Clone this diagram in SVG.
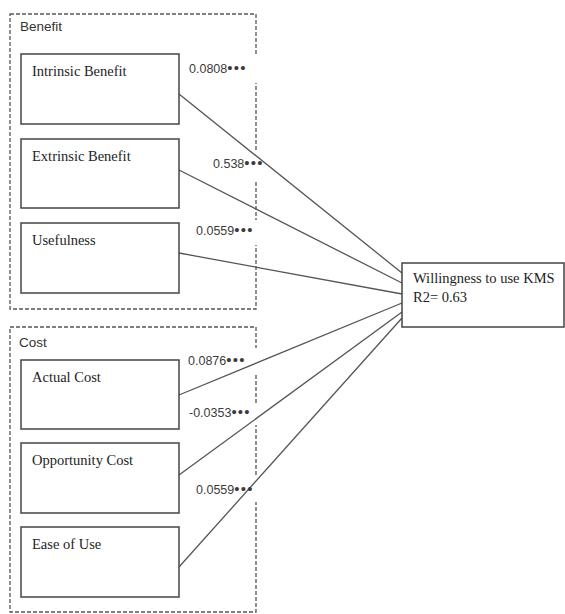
<svg xmlns="http://www.w3.org/2000/svg" width="565" height="614" viewBox="0 0 565 614">
<style>
.grp{fill:none;stroke:#555;stroke-width:1.3;stroke-dasharray:4 2}
.box{fill:#fff;stroke:#444;stroke-width:1.5}
.nt{font-family:"Liberation Serif","Times New Roman",serif;font-size:14.5px;fill:#1e1e1e}
.gl{font-family:"Liberation Sans",Arial,sans-serif;font-size:13.5px;fill:#333}
.lb{font-family:"Liberation Sans",Arial,sans-serif;font-size:12.5px;fill:#3c3c3c}
.st{font-size:15px;letter-spacing:1.2px}
.bg{fill:#fff;stroke:none}
.cn{stroke:#555;stroke-width:1.3;fill:none}
</style>
<rect width="565" height="614" fill="#fff"/>
<g id="group-benefit">
<rect class="grp" x="10" y="14" width="246" height="295"/>
<text class="gl" x="20" y="31">Benefit</text>
</g>
<g id="group-cost">
<rect class="grp" x="10" y="327" width="246" height="285"/>
<text class="gl" x="19" y="347">Cost</text>
</g>
<g id="label-backgrounds">
<rect class="bg" x="186" y="55" width="74" height="28"/>
<rect class="bg" x="210" y="150" width="50" height="30"/>
<rect class="bg" x="193" y="220" width="67" height="25"/>
<rect class="bg" x="186" y="348" width="74" height="25"/>
<rect class="bg" x="186" y="403" width="74" height="22"/>
<rect class="bg" x="193" y="476" width="67" height="26"/>
</g>
<g id="connectors">
<line class="cn" x1="179" y1="94" x2="402" y2="273"/>
<line class="cn" x1="179" y1="170" x2="402" y2="283"/>
<line class="cn" x1="179" y1="253" x2="402" y2="294"/>
<line class="cn" x1="179" y1="395" x2="402" y2="303"/>
<line class="cn" x1="179" y1="475" x2="402" y2="312"/>
<line class="cn" x1="179" y1="567" x2="402" y2="318"/>
</g>
<g id="node-intrinsic">
<rect class="box" x="21" y="54" width="158" height="70"/>
<text class="nt" x="32" y="76">Intrinsic Benefit</text>
</g>
<g id="node-extrinsic">
<rect class="box" x="21" y="139" width="158" height="69"/>
<text class="nt" x="32" y="161">Extrinsic Benefit</text>
</g>
<g id="node-usefulness">
<rect class="box" x="21" y="223" width="158" height="70"/>
<text class="nt" x="32" y="245">Usefulness</text>
</g>
<g id="node-actual-cost">
<rect class="box" x="21" y="360" width="158" height="69"/>
<text class="nt" x="32" y="382">Actual Cost</text>
</g>
<g id="node-opportunity-cost">
<rect class="box" x="21" y="443" width="158" height="70"/>
<text class="nt" x="32" y="465">Opportunity Cost</text>
</g>
<g id="node-ease-of-use">
<rect class="box" x="21" y="527" width="158" height="70"/>
<text class="nt" x="32" y="549">Ease of Use</text>
</g>
<g id="node-willingness">
<rect class="box" x="402" y="263" width="162" height="64"/>
<text class="nt" x="413" y="283">Willingness to use KMS</text>
<text class="nt" x="413" y="302">R2= 0.63</text>
</g>
<g id="labels">
<text class="lb" x="189" y="73">0.0808<tspan class="st">•••</tspan></text>
<text class="lb" x="213" y="168">0.538<tspan class="st">•••</tspan></text>
<text class="lb" x="196" y="235">0.0559<tspan class="st">•••</tspan></text>
<text class="lb" x="188" y="365">0.0876<tspan class="st">•••</tspan></text>
<text class="lb" x="189" y="417">-0.0353<tspan class="st">•••</tspan></text>
<text class="lb" x="196" y="494">0.0559<tspan class="st">•••</tspan></text>
</g>
</svg>
